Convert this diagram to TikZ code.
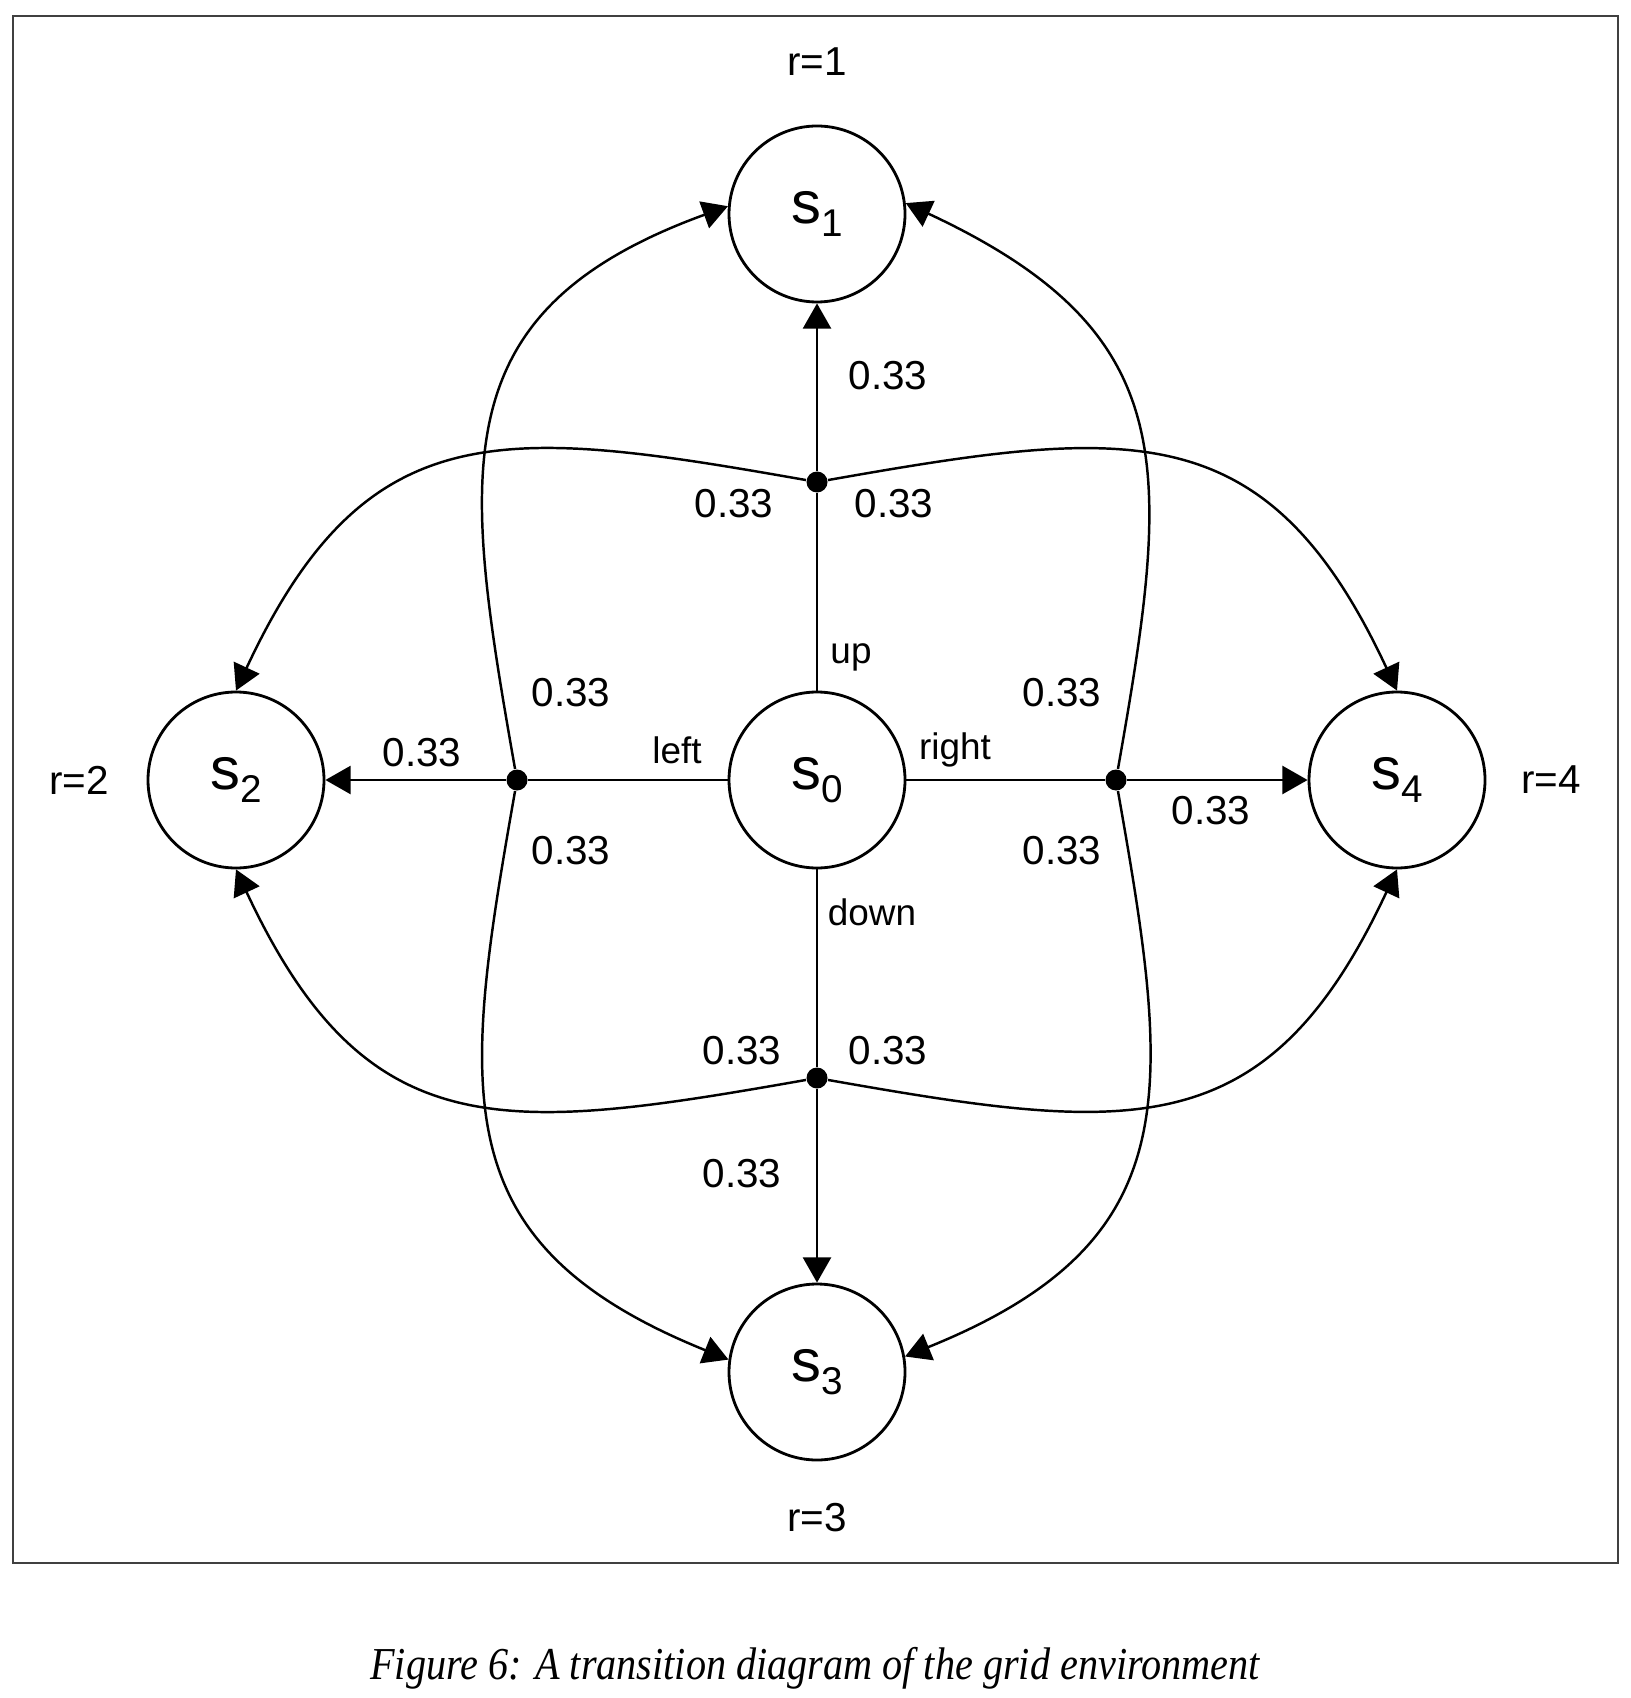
\documentclass[tikz,border=0pt]{standalone}
\usepackage{fontspec}
\setmainfont{Liberation Sans}
\newfontfamily\capfont{Liberation Serif}
\usetikzlibrary{arrows.meta,positioning}

% state name with a lowered index
\newcommand{\sname}[1]{{\fontsize{17}{19}\selectfont s}\raisebox{-3.6pt}{\fontsize{11}{12}\selectfont #1}}

\begin{document}
\begin{tikzpicture}[
  state/.style={draw,circle,line width=0.8pt,minimum size=1.76cm,inner sep=0pt},
  dot/.style={circle,fill=black,minimum size=0.21cm,inner sep=0pt},
  prob/.style={font=\fontsize{11.5}{13}\selectfont},
  act/.style={font=\fontsize{10.5}{12}\selectfont},
  edge/.style={line width=0.7pt},
  >={Triangle[length=7.2pt,width=8pt]}]
\useasboundingbox (0,0) rectangle (16.30,-16.98);
\draw[line width=0.6pt,black!75] (0.13,-0.16) rectangle (16.18,-15.63);

% States
\node[state] (S0) at (8.17,-7.80) {\sname{0}};
\node[state] (S1) at (8.17,-2.14) {\sname{1}};
\node[state] (S2) at (2.36,-7.80) {\sname{2}};
\node[state] (S3) at (8.17,-13.72) {\sname{3}};
\node[state] (S4) at (13.97,-7.80) {\sname{4}};

% Rewards
\node[prob] (r1) at (8.17,-0.62) {r=1};
\node[prob] (r2) at (0.79,-7.80) {r=2};
\node[prob] (r3) at (8.17,-15.18) {r=3};
\node[prob] (r4) at (15.51,-7.80) {r=4};

% Action points
\node[dot] (dU) at (8.17,-4.82) {};
\node[dot] (dL) at (5.17,-7.80) {};
\node[dot] (dR) at (11.16,-7.80) {};
\node[dot] (dD) at (8.17,-10.78) {};

% Actions
\draw[edge] (S0) -- (dU);
\draw[edge] (S0) -- (dL);
\draw[edge] (S0) -- (dR);
\draw[edge] (S0) -- (dD);
\node[act] (aU) at (8.51,-6.57) {up};
\node[act] (aL) at (6.77,-7.50) {left};
\node[act] (aR) at (9.55,-7.50) {right};
\node[act] (aD) at (8.72,-9.12) {down};

% Intended moves
\draw[edge,->] (dU) -- (S1);
\draw[edge,->] (dL) -- (S2);
\draw[edge,->] (dR) -- (S4);
\draw[edge,->] (dD) -- (S3);

% Slips to the sides
\draw[edge,->] (dU) to[out=170,in=65,looseness=1.3] (S2.north);
\draw[edge,->] (dU) to[out=10,in=115,looseness=1.3] (S4.north);
\draw[edge,->] (dD) to[out=190,in=-65,looseness=1.3] (S2.south);
\draw[edge,->] (dD) to[out=-10,in=245,looseness=1.3] (S4.south);
\draw[edge,->] (dL) to[out=100,in=200,looseness=1.3] (S1.175);
\draw[edge,->] (dL) to[out=260,in=158,looseness=1.3] (S3.172);
\draw[edge,->] (dR) to[out=80,in=-25,looseness=1.3] (S1.7);
\draw[edge,->] (dR) to[out=280,in=22,looseness=1.3] (S3.10);

% Probabilities
\node[prob] (pU) at (8.88,-3.76) {0.33};
\node[prob] (pUL) at (7.34,-5.04) {0.33};
\node[prob] (pUR) at (8.94,-5.04) {0.33};
\node[prob] (pLU) at (5.71,-6.93) {0.33};
\node[prob] (pRU) at (10.62,-6.93) {0.33};
\node[prob] (pL) at (4.22,-7.53) {0.33};
\node[prob] (pLD) at (5.71,-8.51) {0.33};
\node[prob] (pRD) at (10.62,-8.51) {0.33};
\node[prob] (pR) at (12.11,-8.11) {0.33};
\node[prob] (pDL) at (7.42,-10.51) {0.33};
\node[prob] (pDR) at (8.88,-10.51) {0.33};
\node[prob] (pD) at (7.42,-11.74) {0.33};

% Caption
\node (cap) at (8.15,-16.68) {\scalebox{0.88}[1]{\capfont\itshape\fontsize{13}{15}\selectfont Figure 6: A transition diagram of the grid environment}};
\end{tikzpicture}
\end{document}
